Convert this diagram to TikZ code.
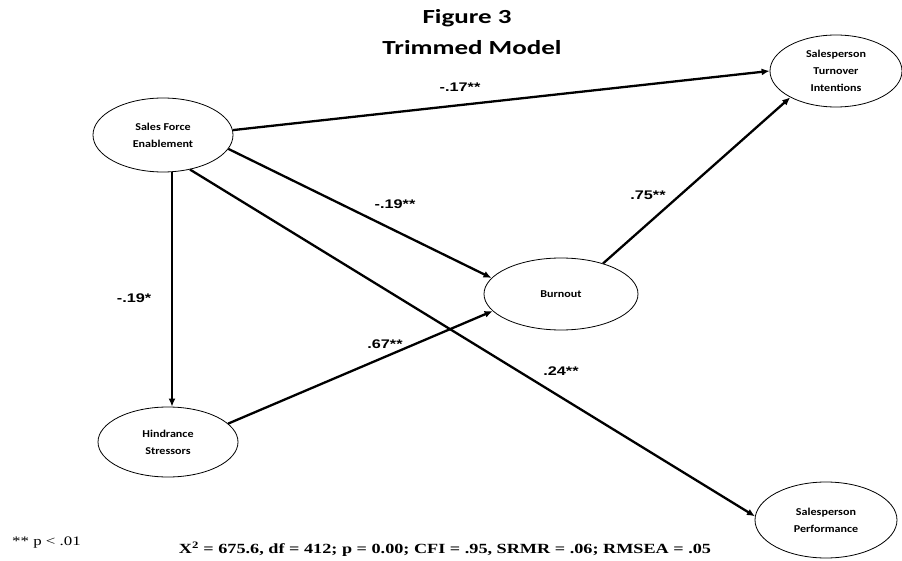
\documentclass[tikz,border=0pt]{standalone}
\usepackage{fontspec}
\setmainfont{Carlito}
\newfontfamily\titlefont[FakeStretch=1.35]{Carlito}
\newfontfamily\nodefont[FakeStretch=1.15]{Carlito}
\newfontfamily\labfont[FakeStretch=1.3]{Liberation Sans}
\newfontfamily\timesfont[FakeStretch=1.3]{Liberation Serif}
\usetikzlibrary{arrows.meta,shapes.geometric}
\tikzset{
  var/.style={draw, line width=0.8pt, ellipse, inner sep=0pt, align=center,
    font=\nodefont\bfseries\fontsize{10.5}{17}\selectfont},
  path/.style={line width=2.3pt, -{Latex[length=8pt,width=7pt]}},
  coef/.style={font=\labfont\bfseries\fontsize{12.5}{14}\selectfont, inner sep=0pt},
}
\begin{document}
\begin{tikzpicture}[x=1pt,y=-1pt]
\useasboundingbox (0,0) rectangle (902,561);
\node[font=\titlefont\bfseries\fontsize{20}{24}\selectfont] (t1) at (467,18) {Figure 3};
\node[font=\titlefont\bfseries\fontsize{20}{24}\selectfont] (t2) at (472,48) {Trimmed Model};

\node[var, minimum width=140pt, minimum height=74pt] (sfe) at (163,135) {Sales Force\\Enablement};
\node[var, minimum width=132pt, minimum height=72pt] (sti) at (836,71) {Salesperson\\Turnover\\Intentions};
\node[var, minimum width=154pt, minimum height=72pt] (bo) at (561,294) {Burnout};
\node[var, minimum width=140pt, minimum height=70pt] (hs) at (168,442) {Hindrance\\Stressors};
\node[var, minimum width=142pt, minimum height=76pt] (sp) at (826,520) {Salesperson\\Performance};

\draw[path] (sfe.4) -- (sti.180);
\draw[path] (sfe.-12) -- (bo.167);
\draw[path] (sfe.south -| 172,0) -- (hs.north -| 172,0);
\draw[path] (sfe.-52) -- (sp.177);
\draw[path] (hs.17) -- (bo.-166);
\draw[path] (bo.36) -- (sti.-150);

\node[coef] (c1) at (460,87) {-.17**};
\node[coef] (c2) at (395,204) {-.19**};
\node[coef] (c3) at (648,195) {.75**};
\node[coef] (c4) at (134,298) {-.19*};
\node[coef] (c5) at (385,344) {.67**};
\node[coef] (c6) at (561,371) {.24**};

\node[font=\timesfont\fontsize{13}{15}\selectfont, anchor=west, inner sep=0pt] (p) at (12,543) {** p < .01};
\node[font=\timesfont\bfseries\fontsize{14}{16}\selectfont] (fit) at (445,549) {X\textsuperscript{2} = 675.6, df = 412; p = 0.00; CFI = .95, SRMR = .06; RMSEA = .05};
\end{tikzpicture}
\end{document}
